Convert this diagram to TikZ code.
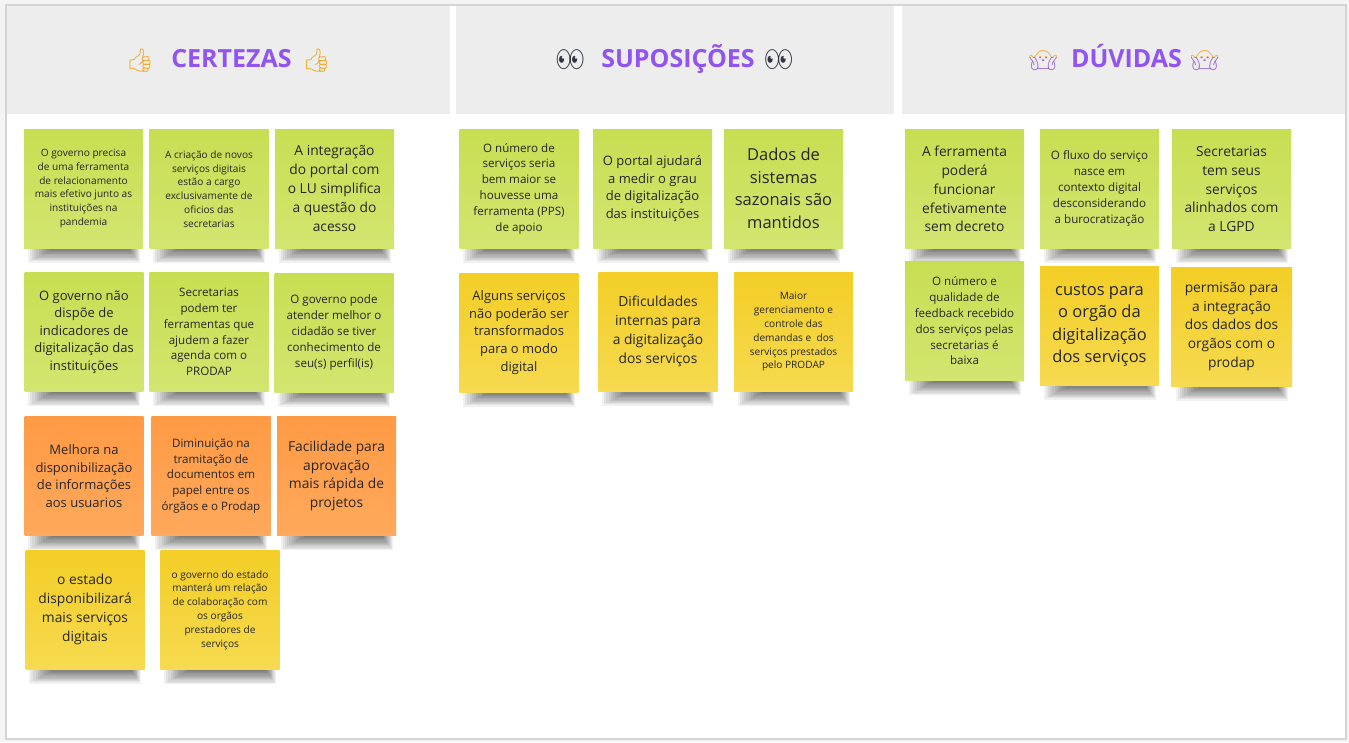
\documentclass[tikz,border=0pt]{standalone}
\usepackage{fontspec}
\setmainfont{Open Sans}
\newfontfamily\emojifont{Noto Emoji}
\definecolor{gtop}{HTML}{C8DE52}
\definecolor{gbot}{HTML}{D3E570}
\definecolor{otop}{HTML}{FF9A44}
\definecolor{obot}{HTML}{FFA95C}
\definecolor{ytop}{HTML}{F3CE26}
\definecolor{ybot}{HTML}{F6DA50}
\definecolor{ink}{HTML}{262626}
\definecolor{headbg}{HTML}{EDEDED}
\definecolor{purp}{HTML}{9254F0}
\definecolor{outerbg}{HTML}{F4F4F4}
\definecolor{frame}{HTML}{D4D4D4}
\definecolor{thumbc}{HTML}{F2A92A}
\definecolor{eyec}{HTML}{303640}
\definecolor{hairc}{HTML}{F2A83A}
\definecolor{shirtc}{HTML}{9C6AD4}
\newcommand{\NoteXS}{\fontsize{10.1pt}{13.8pt}\selectfont}
\newcommand{\NoteS}{\fontsize{11.6pt}{15.8pt}\selectfont}
\newcommand{\NoteM}{\fontsize{13pt}{17.6pt}\selectfont}
\newcommand{\NoteL}{\fontsize{13.8pt}{18.8pt}\selectfont}
\newcommand{\NoteXL}{\fontsize{16.5pt}{22.5pt}\selectfont}
\tikzset{
  note/.style={minimum width=119pt, minimum height=119pt, inner sep=2pt, align=center, text=ink},
  gnote/.style={note, top color=gtop, bottom color=gbot},
  onote/.style={note, top color=otop, bottom color=obot},
  ynote/.style={note, top color=ytop, bottom color=ybot},
  shadowstep/.style={fill=black, fill opacity=0.055, draw=none},
  headtitle/.style={anchor=base, inner sep=0pt, text=purp, font=\fontsize{25pt}{28pt}\selectfont\bfseries},
  emo/.style={inner sep=0pt, font=\emojifont\fontsize{23pt}{26pt}\selectfont}
}
\begin{document}
\begin{tikzpicture}[x=1pt, y=-1pt]
\useasboundingbox (0,0) rectangle (1349,742);
\fill[outerbg] (0,0) rectangle (1349,742);
\draw[frame, line width=2pt, fill=white] (6,5) rectangle (1346,739);
\fill[headbg] (7,6) rectangle (450,114);
\fill[headbg] (456,6) rectangle (894,114);
\fill[headbg] (902,6) rectangle (1345,114);

\node[headtitle] (h1) at (231.5,67) {CERTEZAS};
\node[emo, anchor=base east, text=thumbc] (h1a) at (155,68) {👍};
\node[emo, anchor=base west, text=thumbc] (h1b) at (302,68) {👍};

\node[headtitle] (h2) at (678,67) {SUPOSIÇÕES};
\node[emo, anchor=base east, text=eyec] (h2a) at (585,67) {👀};
\node[emo, anchor=base west, text=eyec] (h2b) at (764,67) {👀};

\node[headtitle] (h3) at (1126.5,67) {DÚVIDAS};
\begin{scope}
  \clip (1020,30) rectangle (1230,57);
  \node[emo, anchor=base east, text=hairc] (h3a) at (1058,68) {🤷};
  \node[emo, anchor=base west, text=hairc] (h3b) at (1190,68) {🤷};
\end{scope}
\begin{scope}
  \clip (1020,57) rectangle (1230,80);
  \node[emo, anchor=base east, text=shirtc] (h3c) at (1058,68) {🤷};
  \node[emo, anchor=base west, text=shirtc] (h3d) at (1190,68) {🤷};
\end{scope}

% note centres
\coordinate (cA) at (83.5,188.5);
\coordinate (cB) at (209,189);
\coordinate (cC) at (334.5,188.5);
\coordinate (cD) at (84,332);
\coordinate (cE) at (209,332);
\coordinate (cF) at (334,332.5);
\coordinate (cG) at (84,476);
\coordinate (cH) at (211,476);
\coordinate (cI) at (336.5,476);
\coordinate (cJ) at (85,609.5);
\coordinate (cK) at (220,610);
\coordinate (cL) at (519,188.5);
\coordinate (cM) at (652.5,188.5);
\coordinate (cN) at (783.5,188.5);
\coordinate (cO) at (519,332.5);
\coordinate (cP) at (658,331.5);
\coordinate (cQ) at (793.5,332);
\coordinate (cR) at (964.5,189);
\coordinate (cS) at (1099.5,188.5);
\coordinate (cT) at (1231.5,189);
\coordinate (cU) at (964.5,321);
\coordinate (cV) at (1099.5,325.5);
\coordinate (cW) at (1231.5,326.5);

% soft shadows beneath the notes (stacked translucent strips)
\foreach \n in {A,B,C,D,E,F,G,H,I,J,K,L,M,N,O,P,Q,R,S,T,U,V,W}
  \foreach \k in {0,...,11}
    \fill[shadowstep] ([shift={({-56+2.2*\k},56)}]c\n) rectangle ([shift={({56-0.9*\k},{74-1.2*\k})}]c\n);

% CERTEZAS notes
\node[gnote, font=\NoteXS] (A) at (cA) {O governo precisa\\de uma ferramenta\\de relacionamento\\mais efetivo junto as\\instituições na\\pandemia};
\node[gnote, font=\NoteXS] (B) at (cB) {A criação de novos\\serviços digitais\\estão a cargo\\exclusivamente de\\oficios das\\secretarias};
\node[gnote, font=\NoteL] (C) at (cC) {A integração\\do portal com\\o LU simplifica\\a questão do\\acesso};
\node[gnote, font=\NoteM] (D) at (cD) {O governo não\\dispõe de\\indicadores de\\digitalização das\\instituições};
\node[gnote, font=\NoteS] (E) at (cE) {Secretarias\\podem ter\\ferramentas que\\ajudem a fazer\\agenda com o\\PRODAP};
\node[gnote, font=\NoteS] (F) at (cF) {O governo pode\\atender melhor o\\cidadão se tiver\\conhecimento de\\seu(s) perfil(is)};
\node[onote, font=\NoteM] (G) at (cG) {Melhora na\\disponibilização\\de informações\\aos usuarios};
\node[onote, font=\NoteS] (H) at (cH) {Diminuição na\\tramitação de\\documentos em\\papel entre os\\órgãos e o Prodap};
\node[onote, font=\NoteL] (I) at (cI) {Facilidade para\\aprovação\\mais rápida de\\projetos};
\node[ynote, font=\NoteL] (J) at (cJ) {o estado\\disponibilizará\\mais serviços\\digitais};
\node[ynote, font=\NoteXS] (K) at (cK) {o governo do estado\\manterá um relação\\de colaboração com\\os orgãos\\prestadores de\\serviços};

% SUPOSICOES notes
\node[gnote, font=\NoteS] (L) at (cL) {O número de\\serviços seria\\bem maior se\\houvesse uma\\ferramenta (PPS)\\de apoio};
\node[gnote, font=\NoteM] (M) at (cM) {O portal ajudará\\a medir o grau\\de digitalização\\das instituições};
\node[gnote, font=\NoteXL] (N) at (cN) {Dados de\\sistemas\\sazonais são\\mantidos};
\node[ynote, font=\NoteM] (O) at (cO) {Alguns serviços\\não poderão ser\\transformados\\para o modo\\digital};
\node[ynote, font=\NoteL] (P) at (cP) {Dificuldades\\internas para\\a digitalização\\dos serviços};
\node[ynote, font=\NoteXS] (Q) at (cQ) {Maior\\gerenciamento e\\controle das\\demandas e~ dos\\serviços prestados\\pelo PRODAP};

% DUVIDAS notes
\node[gnote, font=\NoteL] (R) at (cR) {A ferramenta\\poderá\\funcionar\\efetivamente\\sem decreto};
\node[gnote, font=\NoteS] (S) at (cS) {O fluxo do serviço\\nasce em\\contexto digital\\desconsiderando\\a burocratização};
\node[gnote, font=\NoteL] (T) at (cT) {Secretarias\\tem seus\\serviços\\alinhados com\\a LGPD};
\node[gnote, font=\NoteS] (U) at (cU) {O número e\\qualidade de\\feedback recebido\\dos serviços pelas\\secretarias é\\baixa};
\node[ynote, font=\NoteXL] (V) at (cV) {custos para\\o orgão da\\digitalização\\dos serviços};
\node[ynote, font=\NoteL, minimum width=121pt] (W) at (cW) {permisão para\\a integração\\dos dados dos\\orgãos com o\\prodap};
\end{tikzpicture}
\end{document}
